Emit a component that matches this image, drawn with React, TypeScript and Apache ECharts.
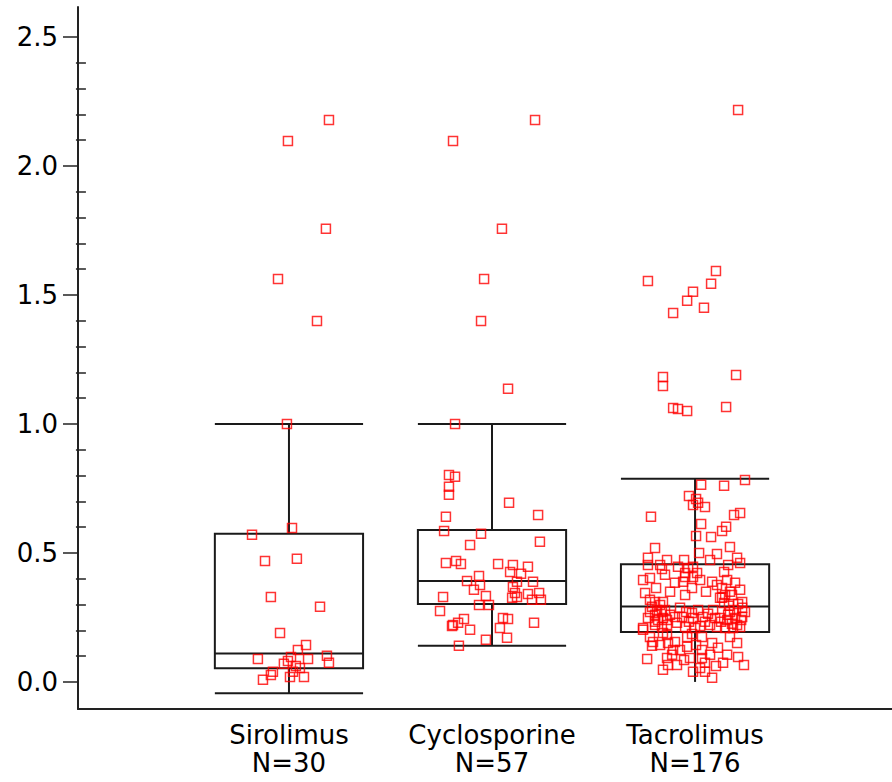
import React, { useEffect, useRef } from "react";
import * as echarts from "echarts";

// ---- categories & labels ----
const categories = ["Sirolimus", "Cyclosporine", "Tacrolimus"];
const counts = [30, 57, 176];
const categoryPos = [1, 2, 3];

// ---- y ticks ----
const yMajorTicks = [0, 0.5, 1.0, 1.5, 2.0, 2.5];
const yMinorTicks = [
  0.1, 0.2, 0.3, 0.4, 0.6, 0.7, 0.8, 0.9, 1.1, 1.2, 1.3, 1.4, 1.6, 1.7, 1.8, 1.9,
  2.1, 2.2, 2.3, 2.4,
];

// ---- box statistics (per category) ----
const whiskerLow = [-0.044, 0.14, 0.0];
const q1 = [0.053, 0.302, 0.193];
const median = [0.11, 0.391, 0.292];
const q3 = [0.574, 0.589, 0.456];
const whiskerHigh = [1.0, 1.0, 0.787];
const lowerCap = [1, 1, 0];

// ---- raw observations (value) and horizontal jitter ----
const sirolimusValues = [
  2.178, 2.097, 1.756, 1.562, 1.399, 1.0, 0.57, 0.597, 0.469, 0.477, 0.329, 0.291,
  0.19, 0.143, 0.124, 0.089, 0.097, 0.081, 0.089, 0.101, 0.074, 0.062, 0.039, 0.039,
  0.027, 0.008, 0.019, 0.019, 0.07, 0.054,
];
const sirolimusJitter = [
  0.197, -0.005, 0.182, -0.054, 0.138, -0.01, -0.182, 0.015, -0.118, 0.039, -0.089, 0.153,
  -0.044, 0.084, 0.044, -0.153, 0.01, -0.005, 0.094, 0.187, 0.197, 0.034, 0.02, -0.079,
  -0.089, -0.128, 0.005, 0.074, -0.025, 0.054,
];

const cyclosporineValues = [
  2.178, 2.097, 1.756, 1.562, 1.399, 1.136, 1.0, 0.802, 0.795, 0.756, 0.725, 0.694,
  0.647, 0.64, 0.585, 0.574, 0.543, 0.531, 0.461, 0.469, 0.457, 0.457, 0.453, 0.446,
  0.419, 0.411, 0.391, 0.376, 0.388, 0.388, 0.357, 0.368, 0.329, 0.333, 0.345, 0.341,
  0.345, 0.326, 0.329, 0.318, 0.318, 0.298, 0.298, 0.275, 0.244, 0.248, 0.244, 0.229,
  0.221, 0.229, 0.202, 0.209, 0.171, 0.163, 0.14, 0.426, 0.217,
];
const cyclosporineJitter = [
  0.212, -0.192, 0.049, -0.039, -0.054, 0.079, -0.182, -0.212, -0.182, -0.212, -0.212, 0.084,
  0.227, -0.227, -0.236, -0.054, 0.236, -0.108, -0.227, -0.177, -0.153, 0.03, 0.103, 0.177,
  0.143, -0.064, -0.123, -0.059, 0.123, 0.202, -0.089, 0.103, -0.241, -0.03, 0.113, 0.177,
  0.232, 0.099, 0.123, 0.197, 0.241, -0.064, -0.015, -0.256, -0.138, 0.054, 0.079, 0.207,
  -0.192, -0.167, -0.108, 0.039, 0.074, -0.03, -0.163, 0.089, -0.197,
];

const tacrolimusValues = [
  2.217, 1.554, 1.593, 1.543, 1.512, 1.477, 1.45, 1.43, 1.182, 1.147, 1.19, 1.062,
  1.058, 1.05, 1.066, 0.783, 0.764, 0.76, 0.721, 0.709, 0.686, 0.694, 0.678, 0.64,
  0.647, 0.655, 0.612, 0.601, 0.585, 0.562, 0.566, 0.523, 0.5, 0.496, 0.481, 0.461,
  0.481, 0.453, 0.438, 0.473, 0.446, 0.442, 0.446, 0.395, 0.403, 0.384, 0.388, 0.364,
  0.337, 0.388, 0.376, 0.395, 0.384, 0.349, 0.326, 0.345, 0.318, 0.422, 0.422, 0.364,
  0.31, 0.31, 0.326, 0.337, 0.337, 0.31, 0.287, 0.271, 0.407, 0.407, 0.279, 0.26,
  0.24, 0.248, 0.26, 0.252, 0.252, 0.267, 0.248, 0.252, 0.233, 0.279, 0.248, 0.248,
  0.24, 0.271, 0.248, 0.221, 0.252, 0.221, 0.213, 0.221, 0.229, 0.213, 0.209, 0.221,
  0.213, 0.209, 0.209, 0.213, 0.209, 0.174, 0.155, 0.14, 0.182, 0.151, 0.155, 0.124,
  0.174, 0.136, 0.186, 0.174, 0.151, 0.124, 0.174, 0.151, 0.089, 0.093, 0.066, 0.066,
  0.105, 0.093, 0.093, 0.105, 0.074, 0.054, 0.039, 0.039, 0.016, 0.074, 0.097, 0.066,
  0.19, 0.202, 0.291, 0.279, 0.271, 0.271, 0.298, 0.24, 0.233, 0.248, 0.306, 0.295,
  0.279, 0.302, 0.26, 0.233, 0.24, 0.225, 0.287, 0.271, 0.279, 0.233, 0.217, 0.264,
  0.364, 0.415, 0.349, 0.395, 0.349, 0.426, 0.357, 0.453, 0.143, 0.124, 0.143, 0.132,
  0.105, 0.085, 0.062, 0.047, 0.473, 0.473, 0.519, 0.453,
];
const tacrolimusJitter = [
  0.212, -0.232, 0.103, 0.079, -0.01, -0.039, 0.044, -0.108, -0.158, -0.158, 0.202, -0.108,
  -0.084, -0.039, 0.153, 0.246, 0.03, 0.143, -0.03, 0.005, -0.01, 0.015, 0.049, -0.217,
  0.192, 0.222, 0.03, 0.153, 0.133, 0.079, 0.005, 0.172, 0.02, 0.108, 0.207, 0.222,
  -0.232, -0.232, -0.163, -0.054, -0.084, -0.034, -0.01, -0.256, -0.222, -0.099, -0.059, -0.015,
  -0.049, 0.084, 0.108, 0.158, 0.197, 0.172, 0.133, -0.246, -0.222, 0.01, -0.049, 0.133,
  -0.197, -0.158, 0.123, 0.148, 0.182, 0.232, 0.232, 0.246, -0.049, -0.01, -0.148, -0.197,
  -0.182, -0.158, -0.123, -0.099, -0.064, -0.015, -0.01, 0.039, 0.049, 0.089, 0.099, 0.123,
  0.158, 0.172, 0.197, 0.207, 0.232, -0.197, -0.163, -0.138, -0.089, -0.049, 0.0, 0.074,
  0.108, 0.148, 0.187, 0.222, -0.256, -0.222, -0.207, -0.212, -0.138, -0.133, -0.099, -0.108,
  -0.039, -0.039, -0.015, 0.034, 0.084, 0.034, 0.172, 0.207, -0.236, -0.138, -0.133, -0.089,
  -0.113, -0.025, 0.034, 0.074, 0.049, 0.025, 0.049, -0.01, 0.084, 0.138, 0.212, 0.241,
  -0.158, -0.256, -0.212, -0.187, -0.163, -0.222, -0.172, -0.138, -0.197, -0.232, 0.143, 0.167,
  0.192, 0.212, 0.163, 0.128, 0.227, 0.182, -0.074, -0.044, 0.015, -0.03, 0.025, 0.064,
  -0.192, -0.148, -0.123, 0.025, 0.054, 0.143, 0.222, -0.172, -0.172, -0.074, 0.005, 0.113,
  0.158, -0.054, 0.103, -0.158, -0.138, 0.074, -0.197, 0.163,
];

const groupValues = [sirolimusValues, cyclosporineValues, tacrolimusValues];
const groupJitter = [sirolimusJitter, cyclosporineJitter, tacrolimusJitter];

const BOX_HALF = 0.365;
const FONT = "DejaVu Sans";

export default function App() {
  const ref = useRef<HTMLDivElement>(null);

  useEffect(() => {
    if (!ref.current) return;
    const chart = echarts.init(ref.current, undefined, { renderer: "svg" });

    const boxData = categoryPos.map((x, i) => [
      x, whiskerLow[i], q1[i], median[i], q3[i], whiskerHigh[i], lowerCap[i],
    ]);

    const pointData: number[][] = [];
    groupValues.forEach((vals, g) => {
      vals.forEach((v, k) => {
        pointData.push([categoryPos[g] + groupJitter[g][k], v]);
      });
    });

    const lineStyle = { stroke: "#1a1a1a", lineWidth: 2 };

    const option: any = {
      animation: false,
      backgroundColor: "#ffffff",
      grid: { left: 78, right: 0, top: 7, bottom: 73, containLabel: false, outerBoundsMode: "none" },
      xAxis: {
        type: "value",
        min: -0.039,
        max: 3.97,
        splitLine: { show: false },
        axisLine: { show: true, onZero: false, lineStyle: { color: "#222", width: 2 } },
        axisTick: { show: false },
        axisLabel: {
          customValues: categoryPos,
          margin: 12,
          color: "#000",
          fontFamily: FONT,
          fontSize: 26,
          lineHeight: 28,
          formatter: (v: number) => {
            const i = categoryPos.indexOf(Math.round(v));
            return i >= 0 ? `${categories[i]}\nN=${counts[i]}` : "";
          },
        },
      },
      yAxis: [
        {
          type: "value",
          position: "left",
          min: -0.105,
          max: 2.616,
          splitLine: { show: false },
          axisLine: { show: true, onZero: false, lineStyle: { color: "#222", width: 2 } },
          axisTick: {
            show: true,
            customValues: yMajorTicks,
            length: 15,
            lineStyle: { color: "#222", width: 1.5 },
          },
          axisLabel: {
            customValues: yMajorTicks,
            margin: 20,
            color: "#000",
            fontFamily: FONT,
            fontSize: 26,
            formatter: (v: number) => v.toFixed(1),
          },
        },
        {
          type: "value",
          position: "left",
          offset: 0,
          min: -0.105,
          max: 2.616,
          splitLine: { show: false },
          axisLine: { show: false },
          axisTick: {
            show: true,
            customValues: yMinorTicks,
            length: 10,
            lineStyle: { color: "#222", width: 1.5 },
          },
          axisLabel: { show: false },
        },
      ],
      series: [
        {
          type: "custom",
          xAxisIndex: 0,
          yAxisIndex: 0,
          clip: false,
          z: 1,
          encode: { x: 0, y: [1, 2, 3, 4, 5] },
          data: boxData,
          renderItem: (_params: any, api: any) => {
            const x = api.value(0);
            const lo = api.value(1);
            const a = api.value(2);
            const m = api.value(3);
            const b = api.value(4);
            const hi = api.value(5);
            const cap = api.value(6);
            const p = (xx: number, yy: number) => api.coord([xx, yy]);
            const line = (s: number[], e: number[]) => ({
              type: "line",
              shape: { x1: s[0], y1: s[1], x2: e[0], y2: e[1] },
              style: { ...lineStyle },
            });
            const tl = p(x - BOX_HALF, b);
            const br = p(x + BOX_HALF, a);
            const children: any[] = [
              {
                type: "rect",
                shape: { x: tl[0], y: tl[1], width: br[0] - tl[0], height: br[1] - tl[1] },
                style: { ...lineStyle, fill: "transparent" },
              },
              line(p(x - BOX_HALF, m), p(x + BOX_HALF, m)),
              line(p(x, b), p(x, hi)),
              line(p(x - BOX_HALF, hi), p(x + BOX_HALF, hi)),
              line(p(x, a), p(x, lo)),
            ];
            if (cap) children.push(line(p(x - BOX_HALF, lo), p(x + BOX_HALF, lo)));
            return { type: "group", children };
          },
        },
        {
          type: "scatter",
          xAxisIndex: 0,
          yAxisIndex: 0,
          z: 3,
          symbol: "rect",
          symbolSize: 9,
          itemStyle: { color: "transparent", borderColor: "#ff0000", borderWidth: 1.5 },
          data: pointData,
        },
      ],
    };

    chart.setOption(option);
    return () => chart.dispose();
  }, []);

  return (
    <div
      ref={ref}
      style={{ position: "fixed", left: 0, top: 0, width: 892, height: 782, background: "#fff" }}
    />
  );
}
